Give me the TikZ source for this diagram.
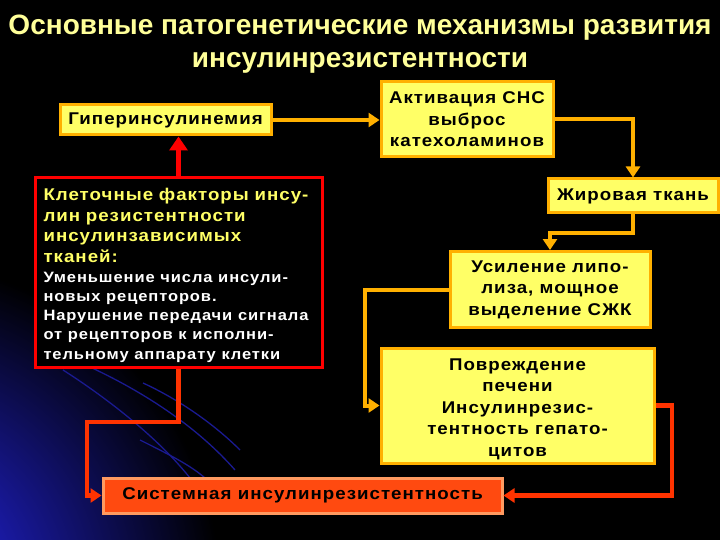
\documentclass[tikz,border=0pt]{standalone}
\usepackage{fontspec}
\setmainfont{Liberation Sans}
\newfontfamily\boxfont{Liberation Sans}[FakeStretch=1.1, LetterSpace=6]
\usetikzlibrary{arrows.meta,calc}
\definecolor{boxyel}{HTML}{FFFF66}
\definecolor{boxbrd}{HTML}{FFB000}
\definecolor{arrorg}{HTML}{FFB000}
\definecolor{arrred}{HTML}{FF3300}
\definecolor{ttlyel}{HTML}{FFFF99}
\definecolor{sysfill}{HTML}{FF4A10}
\definecolor{sysbrd}{HTML}{FF9A60}
\definecolor{glow}{HTML}{2828FF}
\definecolor{arcblue}{HTML}{1A1A90}
\tikzset{
  ybox/.style={draw=boxbrd, line width=3pt, fill=boxyel, text=black, font=\boxfont\bfseries\fontsize{17}{21.5}\selectfont, align=center, inner sep=0pt},
  oarrow/.style={draw=arrorg, line width=4pt, -{Triangle[length=11pt,width=14pt]}},
  rarrow/.style={draw=arrred, line width=4.5pt, -{Triangle[length=11pt,width=14pt]}},
}
\begin{document}
\begin{tikzpicture}[x=1pt,y=-1pt]
\fill[black] (0,0) rectangle (720,540);
\useasboundingbox (0,0) rectangle (720,540);
\begin{scope}
\clip (0,0) rectangle (720,540);
\shade[inner color=glow, outer color=black] (-110,590) circle (330);
\end{scope}
\begin{scope}[arcblue, line width=1.3pt]
\draw (63,370) .. controls (110,400) and (160,440) .. (190,478);
\draw (90,367) .. controls (150,395) and (200,430) .. (235,470);
\draw (143,383) .. controls (180,400) and (215,425) .. (240,450);
\draw (140,440) .. controls (170,455) and (190,465) .. (205,478);
\end{scope}
\node[text=ttlyel, font=\bfseries\fontsize{28}{33}\selectfont, align=center] (title) at (360,44.5) {Основные патогенетические механизмы развития\\инсулинрезистентности};
\node[ybox, minimum width=211pt, minimum height=30pt] (hyp) at (165.5,120) {Гиперинсулинемия};
\node[ybox, minimum width=172pt, minimum height=75pt] (sns) at (467,119.5) {Активация СНС\\выброс\\катехоламинов};
\node[ybox, minimum width=170pt, minimum height=34pt] (fat) at (633,196) {Жировая ткань};
\node[ybox, minimum width=200pt, minimum height=76pt] (lip) at (550,289.5) {Усиление липо-\\лиза, мощное\\выделение СЖК};
\node[ybox, minimum width=273pt, minimum height=115pt] (liver) at (517.5,405.5) {\rule{0pt}{18.5pt}Повреждение\\печени\\Инсулинрезис-\\тентность гепато-\\цитов};
\node[draw=red, line width=3pt, fill=black, minimum width=287pt, minimum height=189pt, text width=270pt, align=left, inner sep=0pt, font=\boxfont\bfseries\fontsize{17}{20.5}\selectfont] (cell) at (178.5,272.5) {\textcolor{boxyel}{\rule{0pt}{19pt}Клеточные факторы инсу-\\лин резистентности\\инсулинзависимых\\тканей:}\\[1pt]\textcolor{white}{\fontsize{15}{19}\selectfont Уменьшение числа инсули-\\новых рецепторов.\\Нарушение передачи сигнала\\от рецепторов к исполни-\\тельному аппарату клетки}};
\node[draw=sysbrd, line width=3pt, fill=sysfill, minimum width=399pt, minimum height=35pt, inner sep=0pt, font=\boxfont\bfseries\fontsize{17}{20}\selectfont, text=black] (sys) at (302.5,495.5) {Системная инсулинрезистентность};
\coordinate (c1) at (633,233);
\coordinate (c2) at (365,405.5);
\coordinate (c3) at (672,495.5);
\coordinate (c4) at (178.5,422);
\coordinate (c5) at (87,422);
\coordinate (c6) at (87,495.5);
\draw[oarrow] (hyp.east) -- (hyp.east -| sns.west);
\draw[oarrow] (sns.east) -| (fat.north);
\draw[oarrow] (fat.south) -- (c1) -| (lip.north);
\draw[oarrow] (lip.west) -| (c2) -- (liver.west);
\draw[rarrow] (liver.east) -| (c3) -- (sys.east);
\draw[rarrow] (cell.south) -- (c4) -- (c5) -- (c6) -- (sys.west);
\draw[draw=red, line width=5pt, -{Triangle[length=14pt,width=18pt]}] (cell.north) -- (cell.north |- hyp.south);
\end{tikzpicture}
\end{document}
